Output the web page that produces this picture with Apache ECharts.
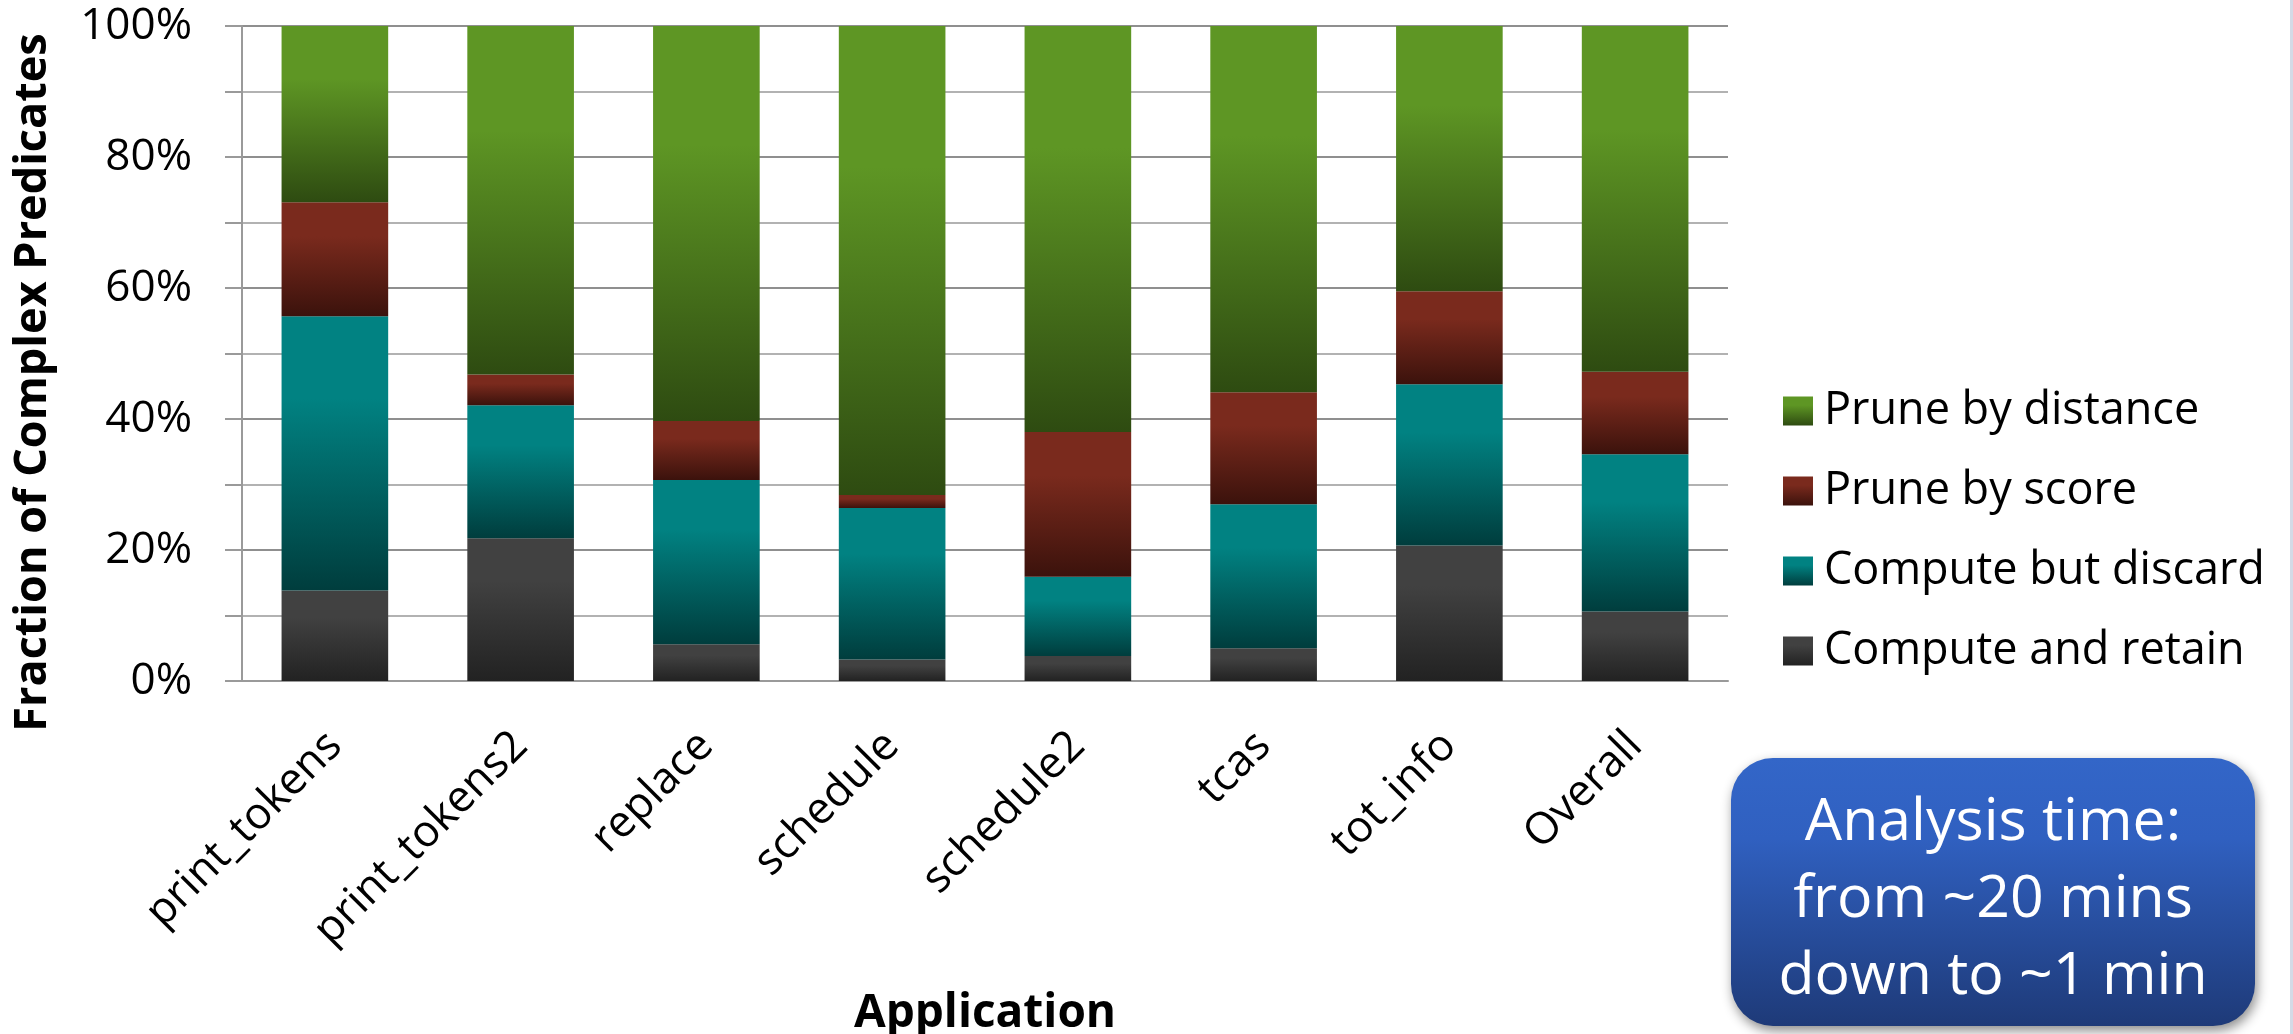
<!DOCTYPE html>
<html>
<head>
<meta charset="utf-8">
<script src="https://cdn.jsdelivr.net/npm/echarts@6/dist/echarts.min.js"></script>
<style>
html,body{margin:0;padding:0;background:#fff;}
#chart{width:2293px;height:1034px;}
</style>
</head>
<body>
<div id="chart"></div>
<script>
const categories = ['print_tokens','print_tokens2','replace','schedule','schedule2','tcas','tot_info','Overall'];
const computeAndRetain  = [13.8, 21.8, 5.6, 3.3, 3.8, 5.0, 20.7, 10.6];
const computeButDiscard = [41.9, 20.3, 25.1, 23.1, 12.1, 22.0, 24.6, 24.0];
const pruneByScore      = [17.4, 4.7, 9.0, 2.0, 22.1, 17.1, 14.2, 12.6];
const pruneByDistance   = [26.9, 53.2, 60.3, 71.6, 62.0, 55.9, 40.5, 52.8];
const seriesNames = ['Compute and retain','Compute but discard','Prune by score','Prune by distance'];
const yTicks = [0, 20, 40, 60, 80, 100];

const FONT = '"Open Sans", "Noto Sans", sans-serif';

function grad(light, dark) {
  return {type:'linear', x:0, y:0, x2:0, y2:1,
    colorStops:[{offset:0,color:light},{offset:0.3,color:light},{offset:1,color:dark}]};
}
const colors = [
  grad('#414141', '#222222'),
  grad('#018282', '#003d3d'),
  grad('#7a2a1d', '#3b120c'),
  grad('#5e9624', '#2e4b11')
];
const dataSets = [computeAndRetain, computeButDiscard, pruneByScore, pruneByDistance];

const chart = echarts.init(document.getElementById('chart'), null, {renderer:'canvas'});
chart.setOption({
  backgroundColor:'#ffffff',
  animation:false,
  grid:{left:242, right:565, top:26, bottom:353, containLabel:false, outerBoundsMode:'none'},
  legend:{
    orient:'vertical', left:1778, top:381,
    data:[seriesNames[3], seriesNames[2], seriesNames[1], seriesNames[0]],
    itemWidth:30, itemHeight:29, itemGap:30,
    icon:'rect',
    textStyle:{fontFamily:FONT, fontSize:45, color:'#000', lineHeight:50, padding:[0,0,0,6]}
  },
  xAxis:{
    type:'category', data:categories,
    name:'Application', nameLocation:'middle', nameGap:310,
    nameTextStyle:{fontFamily:FONT, fontSize:46, fontWeight:'bold', color:'#000'},
    axisLine:{show:true, lineStyle:{color:'#9a9a9a', width:2}},
    axisTick:{show:false},
    axisLabel:{rotate:45, margin:58, fontFamily:FONT, fontSize:44, color:'#000', interval:0}
  },
  yAxis:{
    type:'value', min:0, max:100, interval:10,
    name:'Fraction of Complex Predicates', nameLocation:'middle', nameGap:186,
    nameTextStyle:{fontFamily:FONT, fontSize:45, fontWeight:'bold', color:'#000', padding:[0,58,0,0]},
    axisLine:{show:true, lineStyle:{color:'#9a9a9a', width:2}},
    axisTick:{show:true, length:17, lineStyle:{color:'#9a9a9a', width:2}},
    axisLabel:{margin:50, fontFamily:FONT, fontSize:44, color:'#000',
      formatter:function(v){ return yTicks.indexOf(v) >= 0 ? v + '%' : ''; }},
    splitLine:{show:true, lineStyle:{color:['#8f8f8f','#b2b2b2'], width:2}}
  },
  series: dataSets.map(function(d, i){
    return {
      name: seriesNames[i], type:'bar', stack:'total', data:d,
      barWidth:'57.4%',
      itemStyle:{color: colors[i]}
    };
  }),
  graphic:[
    {
      type:'group', left:1731, top:758,
      children:[
        {type:'rect', shape:{x:0,y:0,width:524,height:268,r:42},
          style:{fill:{type:'linear',x:0,y:0,x2:0,y2:1,colorStops:[{offset:0,color:'#3366c8'},{offset:0.3,color:'#3060c0'},{offset:1,color:'#1e3a78'}]},
            shadowBlur:12, shadowColor:'rgba(0,0,0,0.45)', shadowOffsetX:2, shadowOffsetY:5}},
        {type:'text', x:262, y:142,
          style:{text:'Analysis time:\nfrom ~20 mins\ndown to ~1 min', fill:'#ffffff',
            fontFamily:FONT, fontSize:59, lineHeight:77, align:'center', verticalAlign:'middle'}}
      ]
    },
    {type:'rect', shape:{x:2290,y:0,width:3,height:1034}, style:{fill:'#d4dae6'}}
  ]
});
</script>
</body>
</html>
